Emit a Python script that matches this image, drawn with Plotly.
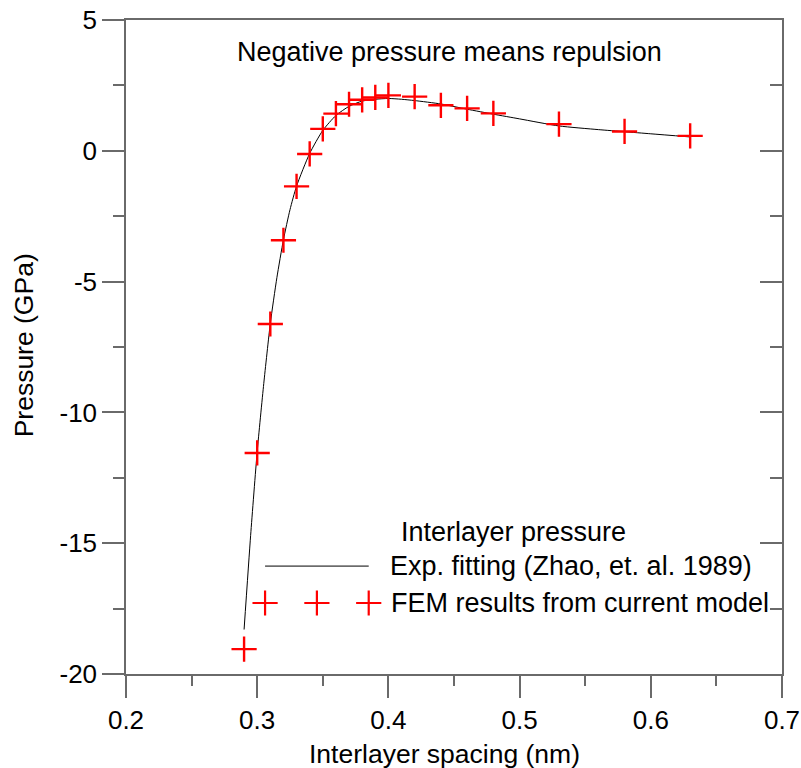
import plotly.graph_objects as go

# ---- data ----
fem_x = [0.29, 0.30, 0.31, 0.32, 0.33, 0.34, 0.35, 0.36, 0.37, 0.38, 0.39, 0.40,
         0.42, 0.44, 0.46, 0.48, 0.53, 0.58, 0.63]
fem_y = [-19.05, -11.55, -6.62, -3.42, -1.36, -0.12, 0.84, 1.42, 1.78, 1.95, 2.04, 2.12,
         2.07, 1.74, 1.62, 1.43, 1.02, 0.74, 0.57]

fit_x = [0.290, 0.295, 0.300, 0.305, 0.310, 0.315, 0.320, 0.325, 0.330, 0.340, 0.350,
         0.360, 0.370, 0.380, 0.390, 0.400, 0.410, 0.420, 0.440, 0.460, 0.480, 0.500,
         0.530, 0.560, 0.580, 0.600, 0.630]
fit_y = [-18.3, -14.7, -11.5, -8.9, -6.6, -4.85, -3.4, -2.25, -1.35, -0.1, 0.78,
         1.35, 1.7, 1.9, 1.97, 2.0, 1.97, 1.92, 1.79, 1.59, 1.40, 1.22,
         0.95, 0.81, 0.73, 0.65, 0.53]

x_ticks = [0.2, 0.3, 0.4, 0.5, 0.6, 0.7]
y_ticks = [-20, -15, -10, -5, 0, 5]

title_text = "Negative pressure means repulsion"
legend_title = "Interlayer pressure"
fit_label = "Exp. fitting (Zhao, et. al. 1989)"
fem_label = "FEM results from current model"
x_title = "Interlayer spacing (nm)"
y_title = "Pressure (GPa)"

# legend glyph positions (paper fractions of plot area)
leg_line_x = [0.212, 0.370]
leg_line_y = [0.165, 0.165]
leg_mark_x = [0.212, 0.291, 0.370]
leg_mark_y = [0.1086, 0.1086, 0.1086]

FONT = "Liberation Sans, Arial, sans-serif"
AX = "#6a6a6a"

fig = go.Figure()
fig.add_trace(go.Scatter(x=fit_x, y=fit_y, mode="lines",
                         line=dict(color="black", width=1, shape="spline", smoothing=0.6),
                         showlegend=False, hoverinfo="skip"))
fig.add_trace(go.Scatter(x=fem_x, y=fem_y, mode="markers",
                         marker=dict(symbol="cross-thin", size=18,
                                     line=dict(color="#ff0000", width=2.4)),
                         showlegend=False))
# invisible trace to materialise the right-hand axis
fig.add_trace(go.Scatter(x=fem_x, y=fem_y, mode="markers", yaxis="y2",
                         marker=dict(opacity=0), showlegend=False, hoverinfo="skip"))
# legend glyphs
fig.add_trace(go.Scatter(x=leg_line_x, y=leg_line_y, mode="lines", xaxis="x3", yaxis="y3",
                         line=dict(color="black", width=1), showlegend=False, hoverinfo="skip"))
fig.add_trace(go.Scatter(x=leg_mark_x, y=leg_mark_y, mode="markers", xaxis="x3", yaxis="y3",
                         marker=dict(symbol="cross-thin", size=18,
                                     line=dict(color="#ff0000", width=2.2)),
                         showlegend=False, hoverinfo="skip"))

fig.update_layout(
    width=801, height=768,
    margin=dict(l=126, r=19, t=20, b=94, autoexpand=False),
    paper_bgcolor="white", plot_bgcolor="white",
    font=dict(family=FONT, size=26, color="black"),
    xaxis=dict(range=[0.2, 0.7], tickvals=x_ticks, ticktext=[f"{v:g}" for v in x_ticks],
               ticks="outside", ticklen=22, tickwidth=1.5, tickcolor=AX,
               minor=dict(dtick=0.05, tick0=0.2, ticks="outside", ticklen=10,
                          tickwidth=1.5, tickcolor=AX),
               showline=True, linecolor=AX, linewidth=1.5, mirror=True,
               showgrid=False, zeroline=False, automargin=False,
               tickfont=dict(size=26, family=FONT)),
    yaxis=dict(range=[-20, 5], tickvals=y_ticks, ticktext=[str(v) for v in y_ticks],
               ticks="outside", ticklen=22, tickwidth=1.5, tickcolor=AX,
               minor=dict(dtick=2.5, tick0=0, ticks="outside", ticklen=11,
                          tickwidth=1.5, tickcolor=AX),
               showline=True, linecolor=AX, linewidth=1.5, mirror=True,
               showgrid=False, zeroline=False, automargin=False,
               tickfont=dict(size=26, family=FONT)),
    yaxis2=dict(range=[-20, 5], overlaying="y", side="right", tickvals=y_ticks,
                showticklabels=False, ticks="inside", ticklen=22, tickwidth=1.5, tickcolor=AX,
                minor=dict(dtick=2.5, tick0=0, ticks="inside", ticklen=12,
                           tickwidth=1.5, tickcolor=AX),
                showline=False, showgrid=False, zeroline=False, automargin=False),
    xaxis3=dict(range=[0, 1], overlaying="x", visible=False, fixedrange=True),
    yaxis3=dict(range=[0, 1], overlaying="y", visible=False, fixedrange=True, anchor="x3"),
    annotations=[
        dict(text=title_text, x=0.4924, y=0.951, xref="paper", yref="paper",
             xanchor="center", yanchor="middle", showarrow=False,
             font=dict(size=27, family=FONT)),
        dict(text=legend_title, x=0.590, y=0.217, xref="paper", yref="paper",
             xanchor="center", yanchor="middle", showarrow=False,
             font=dict(size=27, family=FONT)),
        dict(text=fit_label, x=0.399, y=0.165, xref="paper", yref="paper",
             xanchor="left", yanchor="middle", showarrow=False,
             font=dict(size=27, family=FONT)),
        dict(text=fem_label, x=0.401, y=0.1086, xref="paper", yref="paper",
             xanchor="left", yanchor="middle", showarrow=False,
             font=dict(size=27, family=FONT)),
        dict(text=x_title, x=0.4855, y=-0.123, xref="paper", yref="paper",
             xanchor="center", yanchor="middle", showarrow=False,
             font=dict(size=26.5, family=FONT)),
        dict(text=y_title, x=-0.155, y=0.503, xref="paper", yref="paper", textangle=-90,
             xanchor="center", yanchor="middle", showarrow=False,
             font=dict(size=26.5, family=FONT)),
    ],
)
fig.write_html("out.html")
